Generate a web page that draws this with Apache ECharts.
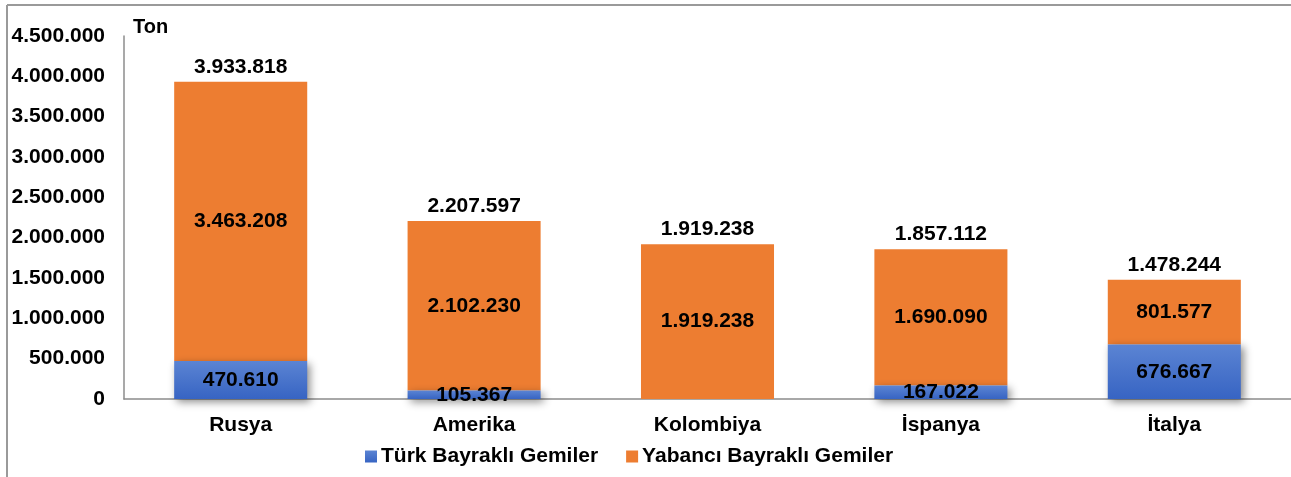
<!DOCTYPE html>
<html>
<head>
<meta charset="utf-8">
<script src="https://cdn.jsdelivr.net/npm/echarts@6/dist/echarts.min.js"></script>
<style>
  html, body { margin: 0; padding: 0; background: #fff; }
  #chart { width: 1291px; height: 477px; }
</style>
</head>
<body>
<div id="chart"></div>
<script>
var categories = ["Rusya", "Amerika", "Kolombiya", "İspanya", "İtalya"];
var turkValues = [470610, 105367, 0, 167022, 676667];
var yabanciValues = [3463208, 2102230, 1919238, 1690090, 801577];
var totals = [3933818, 2207597, 1919238, 1857112, 1478244];
var seriesNames = ["Türk Bayraklı Gemiler", "Yabancı Bayraklı Gemiler"];

//binlik ayraç nokta
function fmt(v) {
    return String(v).replace(/\B(?=(\d{3})+(?!\d))/g, ".");
}

var font = '"Liberation Sans", Arial, sans-serif';
var labelStyle = {
    show: true,
    color: '#000',
    fontFamily: font,
    fontWeight: 'bold',
    fontSize: 21
};

var myChart = echarts.init(document.getElementById('chart'));
var option = {
    animation: false,
    grid: { left: 124, right: 0, top: 36, bottom: 78 },
    graphic: [
        { type: 'line', shape: { x1: 7, y1: 5, x2: 1291, y2: 5 }, style: { stroke: '#9a9a9a', lineWidth: 2 } },
        { type: 'line', shape: { x1: 7, y1: 5, x2: 7, y2: 477 }, style: { stroke: '#9a9a9a', lineWidth: 2 } }
    ],
    legend: {
        data: seriesNames,
        bottom: 5,
        left: 360,
        icon: 'rect',
        itemWidth: 12,
        itemHeight: 12,
        itemGap: 28,
        textStyle: { color: '#000', fontFamily: font, fontWeight: 'bold', fontSize: 21, padding: [0, 0, 0, -1] }
    },
    xAxis: {
        type: 'category',
        data: categories,
        axisLine: { lineStyle: { color: '#8c8c8c', width: 1.5 } },
        axisTick: { show: false },
        axisLabel: { margin: 16, color: '#000', fontFamily: font, fontWeight: 'bold', fontSize: 21 }
    },
    yAxis: {
        type: 'value',
        min: 0,
        max: 4500000,
        interval: 500000,
        name: 'Ton',
        nameGap: -1,
        nameTextStyle: { align: 'left', padding: [0, 0, 0, 9], color: '#000', fontFamily: font, fontWeight: 'bold', fontSize: 20 },
        axisLine: { show: true, lineStyle: { color: '#8c8c8c', width: 1.5 } },
        axisTick: { show: false },
        splitLine: { show: false },
        axisLabel: {
            margin: 19,
            color: '#000', fontFamily: font, fontWeight: 'bold', fontSize: 21,
            formatter: function(v) { return fmt(v); }
        }
    },
    series: [
        {
            name: seriesNames[0],
            type: 'bar',
            stack: 'a',
            barWidth: '57%',
            barGap: '-100%',
            data: turkValues,
            itemStyle: {
                color: new echarts.graphic.LinearGradient(0, 0, 0, 1, [
                    { offset: 0, color: '#5b84d3' },
                    { offset: 1, color: '#3764c3' }
                ]),
                shadowColor: 'rgba(0,0,0,0.45)',
                shadowBlur: 8,
                shadowOffsetX: 3,
                shadowOffsetY: 3
            },
            label: Object.assign({}, labelStyle, {
                position: 'inside',
                formatter: function(p) { return p.value ? fmt(p.value) : ''; }
            }),
            z: 3
        },
        {
            name: seriesNames[1],
            type: 'bar',
            stack: 'a',
            barWidth: '57%',
            data: yabanciValues,
            itemStyle: { color: '#ed7d31' },
            label: Object.assign({}, labelStyle, {
                position: 'inside',
                formatter: function(p) { return fmt(p.value); }
            }),
            z: 2
        },
        {
            name: 'Toplam',
            type: 'bar',
            barWidth: '57%',
            barGap: '-100%',
            silent: true,
            data: totals,
            itemStyle: { color: 'rgba(0,0,0,0)' },
            label: Object.assign({}, labelStyle, {
                position: 'top',
                distance: 4,
                formatter: function(p) { return fmt(p.value); }
            }),
            z: 1
        }
    ]
};
myChart.setOption(option);
</script>
</body>
</html>
